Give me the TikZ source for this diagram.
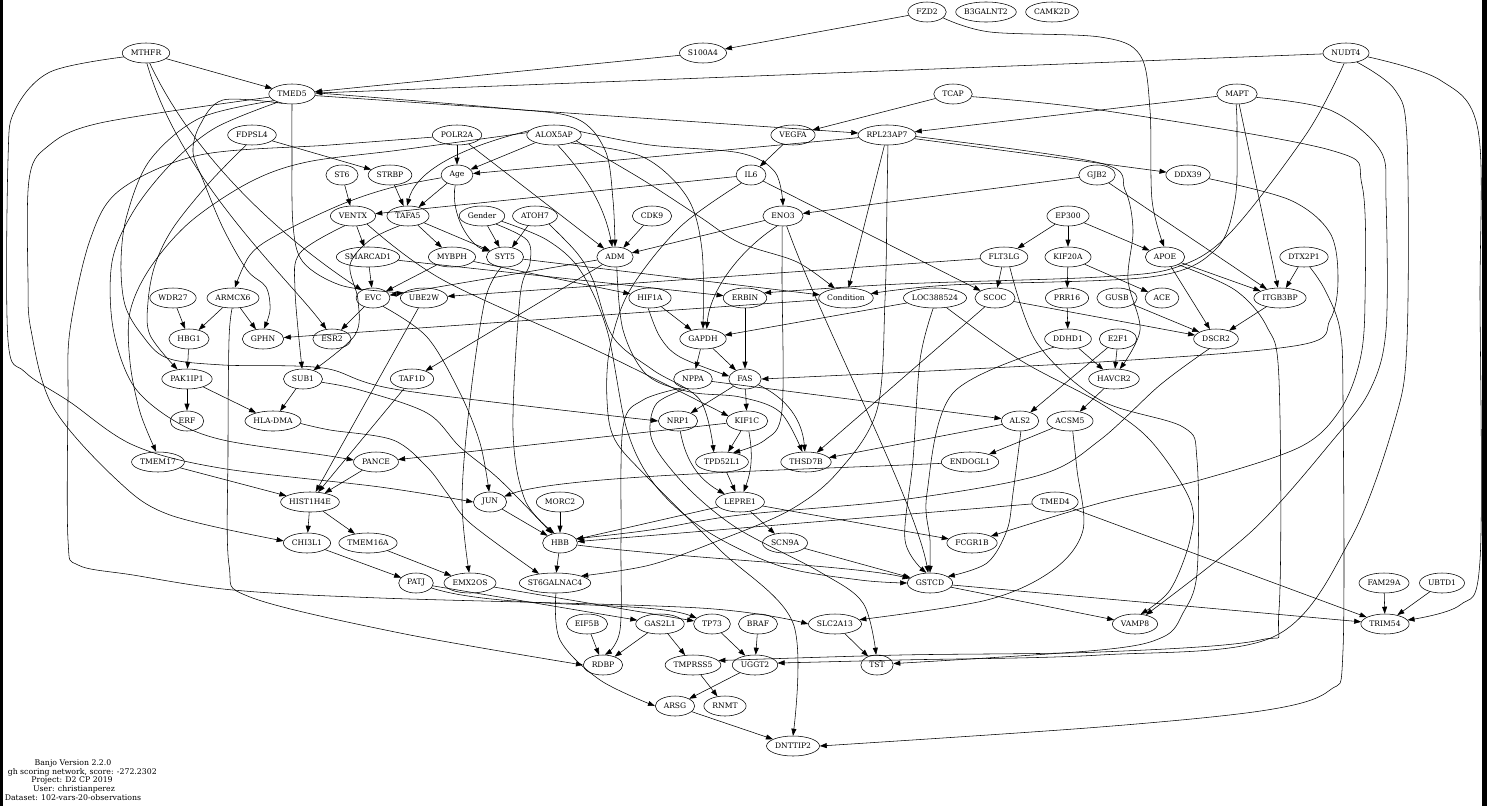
\documentclass[tikz,border=0pt]{standalone}
\usepackage{fontspec}
\setmainfont{DejaVu Serif}
\usetikzlibrary{arrows.meta,shapes.geometric}
\begin{document}
\begin{tikzpicture}[x=1pt,y=-1pt,
  gn/.style={draw, ellipse, line width=0.55pt, inner xsep=-4pt, inner ysep=0pt, minimum height=20pt},
  edg/.style={-{Triangle[length=7pt,width=5pt]}, line width=0.55pt},
  sm/.style={smooth, tension=0.55},
  captxt/.style={inner sep=0pt, font=\fontsize{7.8}{9}\selectfont}]
\fontsize{7.6}{9}\selectfont
\useasboundingbox (0,0) rectangle (1487,806);
\newcommand\gn[3]{\node[gn, minimum width={width("#3")+17}] (#1) at (#2) {#3};}
\newcommand\ed[2]{\draw[edg] (#1) -- (#2);}
% nodes
\gn{FZD2}{927,12}{FZD2}
\gn{B3GALNT2}{986,12}{B3GALNT2}
\gn{CAMK2D}{1052,12}{CAMK2D}
\gn{MTHFR}{146,53}{MTHFR}
\gn{S100A4}{703,53}{S100A4}
\gn{NUDT4}{1346,53}{NUDT4}
\gn{TMED5}{292,94}{TMED5}
\gn{TCAP}{953,94}{TCAP}
\gn{MAPT}{1237,94}{MAPT}
\gn{FDPSL4}{252,135}{FDPSL4}
\gn{POLR2A}{457,135}{POLR2A}
\gn{ALOX5AP}{554,135}{ALOX5AP}
\gn{VEGFA}{793,135}{VEGFA}
\gn{RPL23AP7}{887,135}{RPL23AP7}
\gn{ST6}{342,175}{ST6}
\gn{STRBP}{390,175}{STRBP}
\gn{Age}{457,175}{Age}
\gn{IL6}{751,175}{IL6}
\gn{GJB2}{1097,175}{GJB2}
\gn{DDX39}{1188,175}{DDX39}
\gn{VENTX}{353,216}{VENTX}
\gn{TAFA5}{408,216}{TAFA5}
\gn{Gender}{482,216}{Gender}
\gn{ATOH7}{535,216}{ATOH7}
\gn{CDK9}{652,216}{CDK9}
\gn{ENO3}{783,216}{ENO3}
\gn{EP300}{1068,216}{EP300}
\gn{SMARCAD1}{368,257}{SMARCAD1}
\gn{MYBPH}{452,257}{MYBPH}
\gn{SYT5}{505,257}{SYT5}
\gn{ADM}{615,257}{ADM}
\gn{FLT3LG}{1004,257}{FLT3LG}
\gn{KIF20A}{1068,257}{KIF20A}
\gn{APOE}{1165,257}{APOE}
\gn{DTX2P1}{1304,257}{DTX2P1}
\gn{WDR27}{173,298}{WDR27}
\gn{ARMCX6}{233,298}{ARMCX6}
\gn{EVC}{373,298}{EVC}
\gn{UBE2W}{424,298}{UBE2W}
\gn{HIF1A}{650,298}{HIF1A}
\gn{ERBIN}{745,298}{ERBIN}
\gn{Condition}{846,298}{Condition}
\gn{LOC388524}{935,298}{LOC388524}
\gn{SCOC}{995,298}{SCOC}
\gn{PRR16}{1067,298}{PRR16}
\gn{GUSB}{1117,298}{GUSB}
\gn{ACE}{1162,298}{ACE}
\gn{ITGB3BP}{1280,298}{ITGB3BP}
\gn{HBG1}{189,339}{HBG1}
\gn{GPHN}{263,339}{GPHN}
\gn{ESR2}{332,339}{ESR2}
\gn{GAPDH}{703,339}{GAPDH}
\gn{DDHD1}{1068,339}{DDHD1}
\gn{E2F1}{1118,339}{E2F1}
\gn{DSCR2}{1216,339}{DSCR2}
\gn{PAK1IP1}{187,379}{PAK1IP1}
\gn{SUB1}{303,379}{SUB1}
\gn{TAF1D}{412,379}{TAF1D}
\gn{NPPA}{693,379}{NPPA}
\gn{FAS}{745,379}{FAS}
\gn{HAVCR2}{1114,379}{HAVCR2}
\gn{ERF}{187,421}{ERF}
\gn{HLADMA}{273,421}{HLA-DMA}
\gn{NRP1}{678,421}{NRP1}
\gn{KIF1C}{747,421}{KIF1C}
\gn{ALS2}{1020,421}{ALS2}
\gn{ACSM5}{1070,421}{ACSM5}
\gn{TMEM17}{158,462}{TMEM17}
\gn{PANCE}{376,462}{PANCE}
\gn{TPD52L1}{722,462}{TPD52L1}
\gn{THSD7B}{806,462}{THSD7B}
\gn{ENDOGL1}{970,462}{ENDOGL1}
\gn{HIST1H4E}{310,502}{HIST1H4E}
\gn{JUN}{490,502}{JUN}
\gn{MORC2}{560,502}{MORC2}
\gn{LEPRE1}{740,502}{LEPRE1}
\gn{TMED4}{1055,502}{TMED4}
\gn{CHI3L1}{307,543}{CHI3L1}
\gn{TMEM16A}{368,543}{TMEM16A}
\gn{HBB}{560,543}{HBB}
\gn{SCN9A}{785,543}{SCN9A}
\gn{FCGR1B}{972,543}{FCGR1B}
\gn{PATJ}{416,583}{PATJ}
\gn{EMX2OS}{470,583}{EMX2OS}
\gn{ST6GALNAC4}{555,583}{ST6GALNAC4}
\gn{GSTCD}{930,583}{GSTCD}
\gn{FAM29A}{1384,583}{FAM29A}
\gn{UBTD1}{1442,583}{UBTD1}
\gn{EIF5B}{587,624}{EIF5B}
\gn{GAS2L1}{660,624}{GAS2L1}
\gn{TP73}{712,624}{TP73}
\gn{BRAF}{758,624}{BRAF}
\gn{SLC2A13}{835,624}{SLC2A13}
\gn{VAMP8}{1135,624}{VAMP8}
\gn{TRIM54}{1385,624}{TRIM54}
\gn{RDBP}{603,665}{RDBP}
\gn{TMPRSS5}{693,665}{TMPRSS5}
\gn{UGGT2}{755,665}{UGGT2}
\gn{TST}{877,665}{TST}
\gn{ARSG}{675,706}{ARSG}
\gn{RNMT}{725,706}{RNMT}
\gn{DNTTIP2}{793,746}{DNTTIP2}
% caption
\node[captxt] (c1) at (73,763) {Banjo Version 2.2.0};
\node[captxt, anchor=east] (c2) at (157,772) {gh scoring network, score: -272.2302};
\node[captxt] (c3) at (72,780) {Project: D2 CP 2019};
\node[captxt] (c4) at (74,789) {User: christianperez};
\node[captxt] (c5) at (73,798) {Dataset: 102-vars-20-observations};
% straight edges
\ed{FZD2}{S100A4}
\ed{S100A4}{TMED5}
\ed{MTHFR}{TMED5}
\ed{NUDT4}{TMED5}
\ed{TMED5}{RPL23AP7}
\ed{TCAP}{VEGFA}
\ed{VEGFA}{IL6}
\ed{MAPT}{RPL23AP7}
\ed{POLR2A}{Age}
\ed{ALOX5AP}{Age}
\ed{RPL23AP7}{Age}
\ed{FDPSL4}{STRBP}
\ed{ST6}{VENTX}
\ed{STRBP}{TAFA5}
\ed{Age}{TAFA5}
\ed{GJB2}{ENO3}
\ed{RPL23AP7}{DDX39}
\ed{VENTX}{SMARCAD1}
\ed{TAFA5}{MYBPH}
\ed{TAFA5}{SYT5}
\ed{Gender}{SYT5}
\ed{ATOH7}{SYT5}
\ed{CDK9}{ADM}
\ed{POLR2A}{ADM}
\ed{ENO3}{ADM}
\ed{EP300}{FLT3LG}
\ed{EP300}{KIF20A}
\ed{EP300}{APOE}
\ed{SMARCAD1}{EVC}
\ed{MYBPH}{EVC}
\ed{GJB2}{ITGB3BP}
\ed{MAPT}{ITGB3BP}
\ed{DTX2P1}{ITGB3BP}
\ed{APOE}{ITGB3BP}
\ed{APOE}{DSCR2}
\ed{IL6}{SCOC}
\ed{FLT3LG}{SCOC}
\ed{KIF20A}{PRR16}
\ed{KIF20A}{ACE}
\ed{WDR27}{HBG1}
\ed{ARMCX6}{HBG1}
\ed{ARMCX6}{GPHN}
\ed{EVC}{ESR2}
\ed{HIF1A}{GAPDH}
\ed{LOC388524}{GAPDH}
\ed{ERBIN}{FAS}
\ed{GAPDH}{NPPA}
\ed{GAPDH}{FAS}
\ed{PRR16}{DDHD1}
\ed{GUSB}{DSCR2}
\ed{ITGB3BP}{DSCR2}
\ed{SCOC}{DSCR2}
\ed{DDHD1}{HAVCR2}
\ed{E2F1}{HAVCR2}
\ed{E2F1}{ALS2}
\ed{HBG1}{PAK1IP1}
\ed{PAK1IP1}{ERF}
\ed{PAK1IP1}{HLADMA}
\ed{SUB1}{HLADMA}
\ed{ADM}{TAF1D}
\ed{ADM}{EVC}
\ed{FAS}{NRP1}
\ed{FAS}{KIF1C}
\ed{NPPA}{ALS2}
\ed{HAVCR2}{ACSM5}
\ed{ACSM5}{ENDOGL1}
\ed{ALS2}{THSD7B}
\ed{KIF1C}{PANCE}
\ed{KIF1C}{TPD52L1}
\ed{TMEM17}{HIST1H4E}
\ed{PANCE}{HIST1H4E}
\ed{TAF1D}{HIST1H4E}
\ed{UBE2W}{HIST1H4E}
\ed{TPD52L1}{LEPRE1}
\ed{HIST1H4E}{CHI3L1}
\ed{HIST1H4E}{TMEM16A}
\ed{JUN}{HBB}
\ed{MORC2}{HBB}
\ed{LEPRE1}{HBB}
\ed{LEPRE1}{SCN9A}
\ed{LEPRE1}{FCGR1B}
\ed{TMED4}{HBB}
\ed{TMED4}{TRIM54}
\ed{CHI3L1}{PATJ}
\ed{TMEM16A}{EMX2OS}
\ed{HBB}{ST6GALNAC4}
\ed{SCN9A}{GSTCD}
\ed{SCOC}{THSD7B}
\ed{GSTCD}{VAMP8}
\ed{GSTCD}{TRIM54}
\ed{FAM29A}{TRIM54}
\ed{UBTD1}{TRIM54}
\ed{EIF5B}{RDBP}
\ed{GAS2L1}{RDBP}
\ed{GAS2L1}{TMPRSS5}
\ed{TP73}{UGGT2}
\ed{BRAF}{UGGT2}
\ed{SLC2A13}{TST}
\ed{TMPRSS5}{RNMT}
\ed{UGGT2}{ARSG}
\ed{ARSG}{DNTTIP2}
\ed{PATJ}{GAS2L1}
\ed{EMX2OS}{TP73}
\ed{MYBPH}{HIF1A}
\ed{SMARCAD1}{ERBIN}
\ed{SYT5}{Condition}
\ed{FLT3LG}{UBE2W}
\ed{Condition}{GPHN}
\ed{IL6}{VENTX}
\ed{RPL23AP7}{Condition}
\draw[edg] plot[sm] coordinates {(VENTX.-30) (443,280) (600,352) (KIF1C.165)};
\draw[edg] (HBB) .. controls (700,560) and (850,565) .. (GSTCD);
\draw[edg] (KIF1C) to[bend left=15] (LEPRE1);
\draw[edg] (NRP1) to[bend right=25] (LEPRE1);
\draw[edg] (FAS) to[bend left=30] (THSD7B);
\draw[edg] (ENDOGL1) .. controls (800,470) and (560,475) .. (JUN);
\draw[edg] (PATJ) .. controls (500,610) and (650,600) .. (TP73);
% curved / routed edges
\draw[edg] plot[sm] coordinates {(FZD2.-20) (990,32) (1100,37) (1140,55) (1150,110) (1152,200) (APOE.95)};
\draw[edg] plot[sm] coordinates {(MTHFR.190) (50,72) (15,110) (8,160) (8,340) (25,372) (70,402) (133,445) (220,468) (380,487) (JUN.180)};
\draw[edg] (MTHFR.-70) .. controls (200,170) and (300,250) .. (EVC.145);
\draw[edg] (MTHFR.-85) .. controls (180,180) and (290,280) .. (ESR2.120);
\draw[edg] plot[sm] coordinates {(TMED5.3) (500,108) (575,118) (605,150) (613,200) (ADM.90)};
\draw[edg] plot[sm] coordinates {(TMED5.188) (100,123) (47,147) (29,180) (28,280) (31,330) (53,407) (117,480) (170,515) (CHI3L1.175)};
\draw[edg] plot[sm] coordinates {(TMED5.200) (200,118) (150,160) (127,215) (121,262) (125,305) (142,335) (167,358) (223,365) (323,368) (400,390) (NRP1.180)};
\draw[edg] plot[sm] coordinates {(TMED5.210) (215,128) (170,165) (133,212) (112,262) (113,328) (133,385) (173,420) (223,440) (323,455) (PANCE.175)};
\draw[edg] plot[sm] coordinates {(TMED5.-90) (292,150) (293,225) (303,262) (340,285) (390,292) (UBE2W.165)};
\draw[edg] plot[sm] coordinates {(TMED5.225) (223,100) (200,125) (193,152) (203,180) (223,228) (247,270) (266,287) (270,310) (GPHN.85)};
\draw[edg] plot[sm] coordinates {(FDPSL4.-120) (210,182) (173,228) (155,265) (148,302) (150,335) (PAK1IP1.135)};
\draw[edg] plot[sm] coordinates {(POLR2A.185) (330,145) (200,155) (120,190) (90,240) (70,330) (68,400) (68,540) (78,565) (133,575) (233,590) (380,598) (700,608) (SLC2A13.180)};
\draw[edg] plot[sm] coordinates {(ALOX5AP.175) (400,150) (307,162) (250,182) (190,222) (150,268) (130,312) (130,362) (140,412) (TMEM17.100)};
\draw[edg] (ALOX5AP.170) .. controls (450,150) and (415,175) .. (TAFA5.95);
\draw[edg] plot[sm] coordinates {(ALOX5AP.8) (650,145) (740,153) (775,172) (ENO3.90)};
\draw[edg] (ALOX5AP.-70) .. controls (590,180) and (605,210) .. (ADM.105);
\draw[edg] plot[sm] coordinates {(ALOX5AP.-25) (643,157) (687,197) (702,250) (GAPDH.90)};
\draw[edg] plot[sm] coordinates {(ALOX5AP.-15) (643,180) (700,217) (740,243) (797,262) (Condition.140)};
\draw[edg] (Age.-100) .. controls (450,215) and (470,245) .. (SYT5.160);
\draw[edg] plot[sm] coordinates {(Age.190) (390,188) (340,205) (277,235) (250,255) (ARMCX6.80)};
\draw[edg] plot[sm] coordinates {(IL6.-140) (680,227) (630,290) (610,347) (607,400) (615,440) (650,480) (720,550) (793,623) (DNTTIP2.90)};
\draw[edg] plot[sm] coordinates {(Gender.-30) (527,240) (530,263) (520,297) (513,430) (525,500) (HBB.120)};
\draw[edg] plot[sm] coordinates {(Gender.-15) (547,240) (580,270) (607,330) (627,430) (655,485) (705,530) (780,566) (860,580) (GSTCD.180)};
\draw[edg] plot[sm] coordinates {(ATOH7.-30) (577,253) (593,280) (613,337) (653,370) (700,400) (TPD52L1.130)};
\draw[edg] plot[sm] coordinates {(ENO3.-95) (782,280) (782,410) (765,440) (TPD52L1.40)};
\draw[edg] (ENO3.-70) .. controls (820,320) and (915,500) .. (GSTCD.100);
\draw[edg] (ENO3.-120) .. controls (740,250) and (710,290) .. (GAPDH.70);
\draw[edg] plot[sm] coordinates {(ADM.-80) (623,330) (647,375) (690,392) (740,397) (780,412) (THSD7B.110)};
\draw[edg] plot[sm] coordinates {(NUDT4.-100) (1307,133) (1230,233) (1177,267) (1100,277) (900,284) (ERBIN.15)};
\draw[edg] plot[sm] coordinates {(MAPT.-95) (1237,130) (1235,200) (1215,250) (1150,277) (950,285) (Condition.10)};
\draw[edg] plot[sm] coordinates {(NUDT4.-40) (1395,90) (1407,140) (1407,340) (1395,420) (1350,540) (1273,637) (1100,655) (900,660) (UGGT2.5)};
\draw[edg] plot[sm] coordinates {(NUDT4.-10) (1440,80) (1478,130) (1480,300) (1480,560) (1460,605) (TRIM54.10)};
\draw[edg] plot[sm] coordinates {(TCAP.-8) (1100,110) (1330,150) (1362,185) (1365,300) (1360,360) (1340,410) (1300,447) (1200,480) (1100,503) (FCGR1B.20)};
\draw[edg] plot[sm] coordinates {(MAPT.-10) (1330,110) (1380,150) (1386,200) (1386,330) (1370,390) (1333,440) (1253,530) (VAMP8.40)};
\draw[edg] plot[sm] coordinates {(DTX2P1.-60) (1325,290) (1340,330) (1343,400) (1343,650) (1330,690) (1267,710) (1100,727) (DNTTIP2.0)};
\draw[edg] plot[sm] coordinates {(APOE.-30) (1235,290) (1267,327) (1279,380) (1279,610) (1260,640) (1100,652) (900,655) (TMPRSS5.10)};
\draw[edg] plot[sm] coordinates {(FLT3LG.-60) (1037,343) (1100,400) (1183,427) (1197,460) (1197,573) (1183,613) (1163,637) (1100,650) (TST.5)};
\draw[edg] plot[sm] coordinates {(LOC388524.-40) (1020,360) (1100,403) (1150,440) (1190,500) (1190,540) (1170,590) (VAMP8.60)};
\draw[edg] plot[sm] coordinates {(LOC388524.-100) (920,360) (913,460) (905,540) (GSTCD.110)};
\draw[edg] plot[sm] coordinates {(DDHD1.-150) (953,393) (927,493) (930,540) (GSTCD.90)};
\draw[edg] plot[sm] coordinates {(ALS2.-85) (1013,493) (1007,530) (987,563) (GSTCD.20)};
\draw[edg] plot[sm] coordinates {(ACSM5.-75) (1077,470) (1083,530) (1053,570) (987,600) (SLC2A13.10)};
\draw[edg] plot[sm] coordinates {(RPL23AP7.-3) (1100,163) (1125,190) (1133,230) (1128,280) (1140,330) (HAVCR2.60)};
\draw[edg] plot[sm] coordinates {(DDX39.-10) (1290,200) (1330,233) (1338,280) (1330,320) (1300,345) (1100,362) (FAS.0)};
\draw[edg] plot[sm] coordinates {(DSCR2.-125) (1160,385) (1100,440) (1040,475) (900,500) (740,515) (650,530) (HBB.15)};
\draw[edg] plot[sm] coordinates {(HIF1A.-100) (660,337) (680,357) (FAS.170)};
\draw[edg] plot[sm] coordinates {(SYT5.-110) (485,300) (470,400) (462,500) (EMX2OS.95)};
\draw[edg] plot[sm] coordinates {(SUB1.-10) (360,390) (427,413) (460,447) (500,480) (HBB.130)};
\draw[edg] plot[sm] coordinates {(HLADMA.-5) (330,430) (393,440) (427,467) (447,493) (470,523) (ST6GALNAC4.150)};
\draw[edg] plot[sm] coordinates {(EVC.-40) (427,337) (460,393) (480,443) (JUN.95)};
\draw[edg] plot[sm] coordinates {(VENTX.-130) (300,253) (295,290) (SUB1.95)};
\draw[edg] plot[sm] coordinates {(TAFA5.-130) (370,240) (350,265) (358,300) (355,335) (SUB1.40)};
\draw[edg] plot[sm] coordinates {(RPL23AP7.-85) (887,200) (885,300) (877,410) (837,473) (790,510) (720,540) (650,565) (ST6GALNAC4.15)};
\draw[edg] plot[sm] coordinates {(NPPA.-140) (643,400) (623,427) (621,540) (620,630) (RDBP.80)};
\draw[edg] plot[sm] coordinates {(NPPA.-125) (657,403) (650,430) (660,455) (693,493) (740,530) (820,572) (863,603) (TST.95)};
\draw[edg] plot[sm] coordinates {(ARMCX6.-95) (229,340) (228,450) (229,565) (250,597) (400,633) (RDBP.180)};
\draw[edg] plot[sm] coordinates {(ST6GALNAC4.-85) (560,640) (600,680) (ARSG.180)};
% border strips
\fill[black] (0,0) rectangle (3.3,806);
\fill[black] (1481.5,0) rectangle (1487,806);
\end{tikzpicture}
\end{document}
